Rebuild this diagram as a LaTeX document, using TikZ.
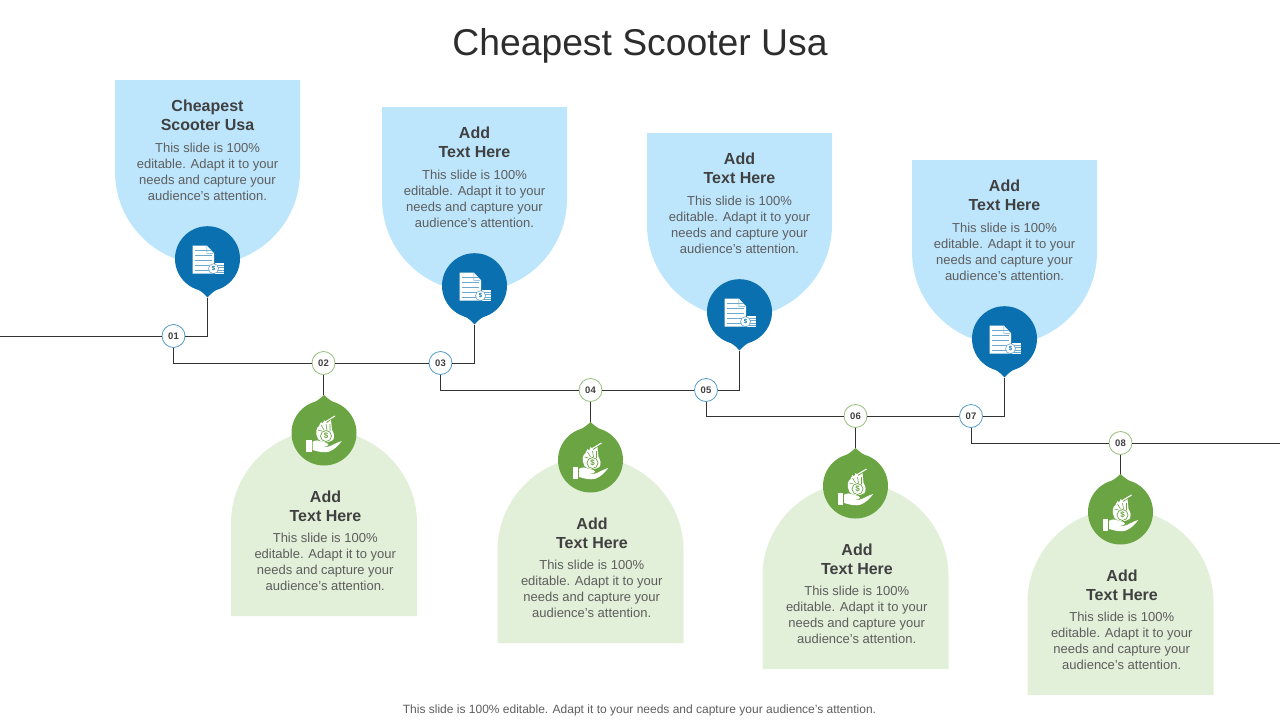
\documentclass[tikz,border=0pt]{standalone}
\usepackage{fontspec}
\setmainfont{Liberation Sans}
\definecolor{lblue}{HTML}{BDE6FD}
\definecolor{dblue}{HTML}{0B70AF}
\definecolor{lgreen}{HTML}{E2EFD9}
\definecolor{dgreen}{HTML}{6AA443}
\definecolor{txt}{HTML}{404040}
\definecolor{wire}{HTML}{333333}
\tikzset{
  headtxt/.style={align=center,inner sep=0,font=\fontsize{16}{19}\selectfont\bfseries,text=txt},
  bodytxt/.style={align=center,inner sep=0,font=\fontsize{13}{16}\selectfont,text=txt!85!white},
  numdot/.style={circle,draw=#1,fill=white,line width=0.8pt,minimum size=23pt,inner sep=0,font=\fontsize{9.5}{10}\selectfont\bfseries,text=txt},
  marker/.style={circle,fill=#1,minimum size=65pt,inner sep=0},
  wireline/.style={draw=wire,line width=1pt},
}
\newcommand{\bodytext}{This slide is 100\%\\editable. Adapt it to your\\needs and capture your\\audience's attention.}
% #1 id, #2 centre x, #3 top y, #4 heading
\newcommand{\bluecard}[4]{%
  \begin{scope}[shift={(#2,#3)}]
    \fill[lblue] (-92.5,0) -- (92.5,0) -- (92.5,92) .. controls (92.5,143) and (51,184.5) .. (0,184.5)
      .. controls (-51,184.5) and (-92.5,143) .. (-92.5,92) -- cycle;
    \node[headtxt] (h#1) at (0,35.5) {#4};
    \node[bodytxt] (b#1) at (0,91.5) {\bodytext};
    \node[marker=dblue] (m#1) at (0,178.7) {};
    \fill[dblue] (-14,206.7) .. controls (-7,210.7) and (-3,213.7) .. (0,217.5) .. controls (3,213.7) and (7,210.7) .. (14,206.7) -- cycle;
    \coordinate (t#1) at (0,217.5);
    \begin{scope}[shift={(0,178.7)}]
      \fill[white] (-15,-13) -- (-0.5,-13) -- (6.5,-5.5) -- (6.5,15) -- (-15,15) -- cycle;
      \fill[dblue!60!white] (-0.5,-12.5) -- (-0.5,-5.5) -- (6,-5.5) -- (5,-5) -- (-1,-5) -- (-1,-12.5) -- cycle;
      \foreach \ly in {-8.5,-3.7,1.3,6.3,11}
        \draw[dblue!60!white,line width=0.4pt] (-13,\ly) -- (4,\ly);
      \fill[white] (7,4.5) rectangle (16,15);
      \foreach \ly in {6.5,8.8,11.1,13.3}
        \draw[dblue!60!white,line width=0.4pt] (9,\ly) -- (16,\ly);
      \draw[dblue!70!white,fill=white,line width=0.5pt] (6,10) circle (5);
      \node[inner sep=0,text=dblue,font=\fontsize{6}{6}\selectfont\bfseries] (d#1) at (6,10) {\$};
    \end{scope}
  \end{scope}}
% #1 id, #2 centre x, #3 bottom y
\newcommand{\greencard}[3]{%
  \begin{scope}[shift={(#2,#3)}]
    \fill[lgreen] (-93,0) -- (93,0) -- (93,-93) .. controls (93,-144) and (51,-186) .. (0,-186)
      .. controls (-51,-186) and (-93,-144) .. (-93,-93) -- cycle;
    \node[headtxt] (h#1) at (1.5,-110) {Add\\Text Here};
    \node[bodytxt] (b#1) at (1.2,-54) {\bodytext};
    \node[marker=dgreen] (m#1) at (0,-183) {};
    \fill[dgreen] (-14,-211) .. controls (-7,-215) and (-3,-218) .. (0,-221) .. controls (3,-218) and (7,-215) .. (14,-211) -- cycle;
    \coordinate (t#1) at (0,-221);
    \begin{scope}[shift={(0,-183)}]
      \fill[white] (-18,7) rectangle (-12.5,19);
      \fill[white] (-11.3,8.7) .. controls (-8,7) and (-5,7) .. (-2,8.7) -- (3,10) .. controls (5,10.5) and (5,13) .. (3,13)
        -- (-3,13) -- (3,14) .. controls (8,13) and (13,9) .. (17.7,8) .. controls (15,12) and (10,17) .. (5,18.7)
        .. controls (0,20) and (-5,19) .. (-11.3,17) -- cycle;
      \fill[white] (-6,6) .. controls (-9,0) and (-8,-5) .. (-5,-7) -- (-3,-11) -- (-1,-9) -- (0,-13) -- (3,-10) -- (7,-13) -- (8,-3)
        .. controls (10,0) and (11,4) .. (9,7) .. controls (5,10) and (-3,10) .. (-6,6) -- cycle;
      \draw[white,line width=1.1pt] (-4,-8) -- (11,-17);
      \draw[dgreen,line width=0.6pt] (-6,-3) -- (-2,-2) (-3,-8) -- (0,-3) (2,-9) -- (3,-3) (6,-9) -- (6,-2);
      \draw[dgreen,fill=white,line width=0.7pt] (2,3) circle (5.5);
      \node[inner sep=0,text=dgreen,font=\fontsize{8}{8}\selectfont\bfseries] (d#1) at (2,3) {\$};
    \end{scope}
  \end{scope}}
\begin{document}
\begin{tikzpicture}[x=1pt,y=-1pt]
\useasboundingbox (0,0) rectangle (1280,720);
\node[inner sep=0,text=txt!70!black,font=\fontsize{37.3}{41}\selectfont] (title) at (640,46) {Cheapest Scooter Usa};
\node[inner sep=0,text=txt!85!white,font=\fontsize{12}{14}\selectfont] (foot) at (639.5,710) {This slide is 100\% editable. Adapt it to your needs and capture your audience's attention.};

\bluecard{A}{207.5}{80}{Cheapest\\Scooter Usa}
\bluecard{B}{474.5}{107}{Add\\Text Here}
\bluecard{C}{739.5}{133}{Add\\Text Here}
\bluecard{D}{1004.5}{160}{Add\\Text Here}
\greencard{E}{324}{616}
\greencard{F}{590.5}{643}
\greencard{G}{855.5}{669}
\greencard{H}{1120.5}{695}

\coordinate (start) at (0,336);
\coordinate (end) at (1280,443);
\node[numdot=dblue!70!white] (n1) at (173.5,336) {01};
\node[numdot=dgreen!70!white] (n2) at (323.5,363) {02};
\node[numdot=dblue!70!white] (n3) at (440.5,363) {03};
\node[numdot=dgreen!70!white] (n4) at (590.5,390) {04};
\node[numdot=dblue!70!white] (n5) at (706,390) {05};
\node[numdot=dgreen!70!white] (n6) at (855.5,416) {06};
\node[numdot=dblue!70!white] (n7) at (971,416) {07};
\node[numdot=dgreen!70!white] (n8) at (1120.5,443) {08};

\path[wireline] (start) -- (n1.west);
\path[wireline] (n1.east) -- (n1 -| tA) -- (tA);
\path[wireline] (n1.south) |- (n2.west);
\path[wireline] (n2.east) -- (n3.west);
\path[wireline] (n3.east) -- (n3 -| tB) -- (tB);
\path[wireline] (n3.south) |- (n4.west);
\path[wireline] (n4.east) -- (n5.west);
\path[wireline] (n5.east) -- (n5 -| tC) -- (tC);
\path[wireline] (n5.south) |- (n6.west);
\path[wireline] (n6.east) -- (n7.west);
\path[wireline] (n7.east) -- (n7 -| tD) -- (tD);
\path[wireline] (n7.south) |- (n8.west);
\path[wireline] (n8.east) -- (end);
\path[wireline] (n2.south) -- (n2 |- tE);
\path[wireline] (n4.south) -- (n4 |- tF);
\path[wireline] (n6.south) -- (n6 |- tG);
\path[wireline] (n8.south) -- (n8 |- tH);
\end{tikzpicture}
\end{document}
